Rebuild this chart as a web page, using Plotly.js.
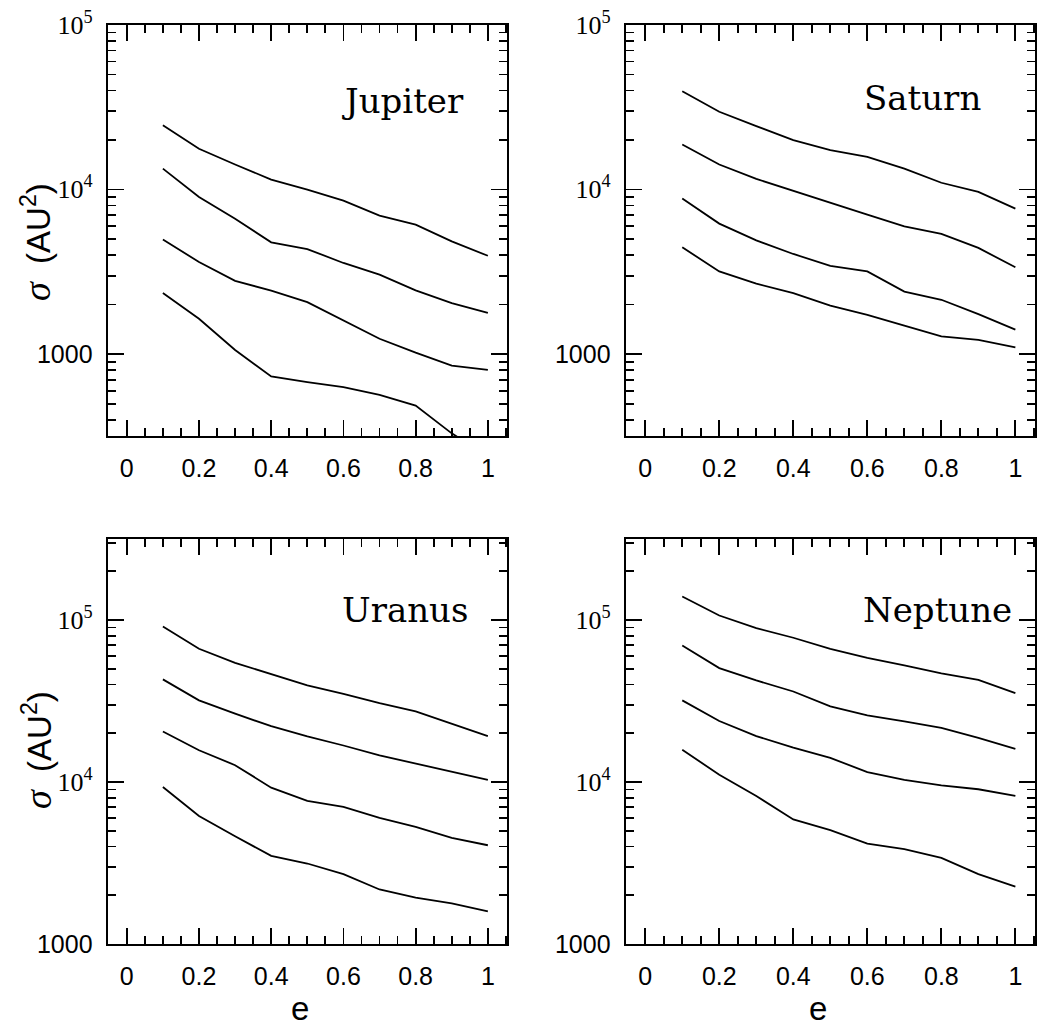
<!DOCTYPE html>
<html>
<head>
<meta charset="utf-8">
<script src="https://cdn.plot.ly/plotly-3.0.1.min.js"></script>
<style>html,body{margin:0;padding:0;background:#fff}#chart{width:1037px;height:1030px}</style>
</head>
<body>
<div id="chart"></div>
<script>
// eccentricity
const ecc = [0.1, 0.2, 0.3, 0.4, 0.5, 0.6, 0.7, 0.8, 0.9, 1.0];

// Jupiter
const jupiter1 = [24600, 17700, 14200, 11500, 10000, 8570, 6950, 6120, 4840, 3960];
const jupiter2 = [13400, 9020, 6650, 4780, 4350, 3580, 3040, 2440, 2040, 1780];
const jupiter3 = [4970, 3630, 2790, 2430, 2070, 1600, 1240, 1020, 851, 802];
const jupiter4 = [2350, 1640, 1060, 731, 676, 630, 565, 487, 330, 240];

// Saturn
const saturn1 = [39600, 29700, 24300, 19950, 17350, 15800, 13400, 11000, 9690, 7660];
const saturn2 = [18800, 14200, 11600, 9860, 8300, 7050, 5980, 5380, 4420, 3370];
const saturn3 = [8820, 6210, 4910, 4060, 3440, 3180, 2400, 2140, 1750, 1410];
const saturn4 = [4460, 3180, 2680, 2350, 1970, 1730, 1490, 1280, 1220, 1100];

// Uranus
const uranus1 = [91200, 66400, 54400, 46100, 39500, 35000, 30700, 27300, 22900, 19200];
const uranus2 = [43000, 31900, 26400, 22100, 19100, 16800, 14600, 13000, 11500, 10300];
const uranus3 = [20500, 15700, 12700, 9230, 7640, 7020, 6000, 5280, 4520, 4070];
const uranus4 = [9310, 6170, 4620, 3500, 3140, 2700, 2170, 1930, 1780, 1590];

// Neptune
const neptune1 = [139600, 106600, 89100, 77700, 66400, 58400, 52400, 46900, 42700, 35400];
const neptune2 = [69600, 50500, 42400, 36200, 29300, 25800, 23700, 21600, 18700, 16000];
const neptune3 = [31900, 23800, 19200, 16300, 14100, 11500, 10300, 9540, 9020, 8200];
const neptune4 = [15800, 11100, 8200, 5870, 5040, 4170, 3850, 3400, 2700, 2260];

const planetNames = ["Jupiter", "Saturn", "Uranus", "Neptune"];

// ticks
const xTickVals = [0, 0.2, 0.4, 0.6, 0.8, 1.0];
const xTickText = ["0", "0.2", "0.4", "0.6", "0.8", "1"];
const yTickVals = [1000, 10000, 100000];
const serifSpan = s => "<span style=\"font-family:'Liberation Serif','Times New Roman',serif;font-size:26px\">" + s + "</span>";
const yTickText = ["1000", serifSpan("10<sup>4</sup>"), serifSpan("10<sup>5</sup>")];
const yMinorVals = [300, 400, 500, 600, 700, 800, 900,
  2000, 3000, 4000, 5000, 6000, 7000, 8000, 9000,
  20000, 30000, 40000, 50000, 60000, 70000, 80000, 90000,
  200000, 300000];

const panels = [
  {series: [jupiter1, jupiter2, jupiter3, jupiter4], xa: "x", ya: "y"},
  {series: [saturn1, saturn2, saturn3, saturn4], xa: "x2", ya: "y2"},
  {series: [uranus1, uranus2, uranus3, uranus4], xa: "x3", ya: "y3"},
  {series: [neptune1, neptune2, neptune3, neptune4], xa: "x4", ya: "y4"}
];

const traces = [];
panels.forEach(p => {
  p.series.forEach(s => {
    traces.push({
      x: ecc, y: s, xaxis: p.xa, yaxis: p.ya,
      type: "scatter", mode: "lines",
      line: {color: "#000", width: 1.8},
      hoverinfo: "skip", showlegend: false
    });
  });
});

const tickFont = {family: "Liberation Sans, Arial, sans-serif", size: 25, color: "#000"};

function xAxis(domain, anchor) {
  return {
    domain: domain, anchor: anchor, range: [-0.052, 1.053],
    tickmode: "array", tickvals: xTickVals, ticktext: xTickText,
    ticks: "inside", ticklen: 16, tickwidth: 1.8, tickcolor: "#000",
    minor: {tickmode: "linear", tick0: 0, dtick: 0.05, ticks: "inside", ticklen: 8, tickwidth: 1.8, tickcolor: "#000"},
    showline: true, linewidth: 2.4, linecolor: "#000", mirror: "ticks",
    showgrid: false, zeroline: false,
    tickfont: tickFont, ticklabelstandoff: 9, fixedrange: true
  };
}
function yAxis(domain, anchor, range) {
  return {
    domain: domain, anchor: anchor, type: "log", range: range,
    tickmode: "array", tickvals: yTickVals, ticktext: yTickText,
    ticks: "inside", ticklen: 16, tickwidth: 1.8, tickcolor: "#000",
    minor: {tickmode: "array", tickvals: yMinorVals, ticks: "inside", ticklen: 8, tickwidth: 1.8, tickcolor: "#000"},
    showline: true, linewidth: 2.4, linecolor: "#000", mirror: "ticks",
    showgrid: false, zeroline: false,
    tickfont: tickFont, ticklabelstandoff: 8, fixedrange: true
  };
}

const W = 1037, H = 1030;
const xdomL = [108 / W, 507 / W];
const xdomR = [626 / W, 1035 / W];
const ydomT = [1 - 436 / H, 1 - 25 / H];
const ydomB = [1 - 944 / H, 1 - 539 / H];

const nameFont = {family: "DejaVu Serif, Liberation Serif, serif", size: 34, color: "#000"};
const titleFont = {family: "Liberation Sans, Arial, sans-serif", size: 33, color: "#000"};

const annotations = [
  {text: planetNames[0], x: 403 / W, y: 1 - 101 / H},
  {text: planetNames[1], x: 922 / W, y: 1 - 98 / H},
  {text: planetNames[2], x: 405 / W, y: 1 - 610 / H},
  {text: planetNames[3], x: 937 / W, y: 1 - 610 / H}
].map(a => Object.assign({xref: "paper", yref: "paper", showarrow: false, xanchor: "center", yanchor: "middle", font: nameFont}, a));

[1 - 242 / H, 1 - 750 / H].forEach(yy => {
  annotations.push({
    xref: "paper", yref: "paper", showarrow: false,
    x: 37 / W, y: yy,
    xanchor: "center", yanchor: "middle", textangle: -90,
    text: "<span style=\"font-family:'Liberation Serif','Times New Roman',serif;font-style:italic;font-size:38px\">σ</span>  (AU<sup>2</sup>)",
    font: titleFont
  });
});
[300 / W, 818 / W].forEach(xx => {
  annotations.push({
    xref: "paper", yref: "paper", showarrow: false,
    x: xx, y: 1 - 1008 / H, xanchor: "center", yanchor: "middle",
    text: "e", font: titleFont
  });
});

const layout = {
  width: W, height: H,
  margin: {l: 0, r: 0, t: 0, b: 0},
  paper_bgcolor: "#fff", plot_bgcolor: "#fff",
  showlegend: false,
  xaxis: xAxis(xdomL, "y"),
  yaxis: yAxis(ydomT, "x", [Math.log10(318), 5]),
  xaxis2: xAxis(xdomR, "y2"),
  yaxis2: yAxis(ydomT, "x2", [Math.log10(318), 5]),
  xaxis3: xAxis(xdomL, "y3"),
  yaxis3: yAxis(ydomB, "x3", [3, 5.5]),
  xaxis4: xAxis(xdomR, "y4"),
  yaxis4: yAxis(ydomB, "x4", [3, 5.5]),
  annotations: annotations
};

Plotly.newPlot("chart", traces, layout, {displayModeBar: false, staticPlot: true});
</script>
</body>
</html>
